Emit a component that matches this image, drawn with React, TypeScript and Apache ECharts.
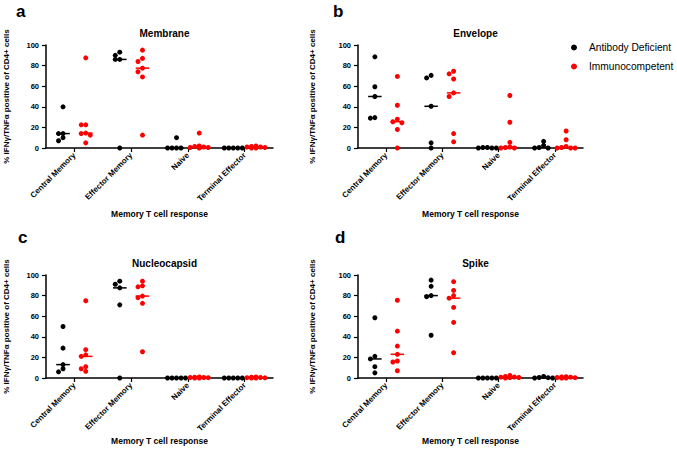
import React, { useEffect, useRef } from "react";
import * as echarts from "echarts";

const categories = ["Central Memory", "Effector Memory", "Naive", "Terminal Effector"];
const groupNames = ["Antibody Deficient", "Immunocompetent"];
const groupColors = ["#000000", "#ff0000"];
const panelTitles = ["Membrane", "Envelope", "Nucleocapsid", "Spike"];
const panelLetters = ["a", "b", "c", "d"];
const yAxisTitle = "% IFNγ/TNFα positive of CD4+ cells";
const xAxisTitle = "Memory T cell response";

// values per category: [Central Memory, Effector Memory, Naive, Terminal Effector]
const membraneDeficient = [
  [40, 14, 14, 10, 7],
  [93, 90, 86, 86, 0],
  [10, 0, 0, 0, 0],
  [0, 0, 0, 0, 0],
];
const membraneCompetent = [
  [87.5, 22.5, 22.5, 14.5, 14, 12.5, 5],
  [95, 87, 84, 77.5, 74, 69, 12.5],
  [14.5, 2, 1.5, 1, 0.5, 0.5, 0],
  [2, 1.5, 1, 1, 0.5, 0, 0],
];
const envelopeDeficient = [
  [88.5, 59.5, 50, 29.5, 29],
  [70.5, 68, 40.5, 5, 0],
  [0.5, 0.5, 0, 0, 0],
  [6.5, 2.5, 0.5, 0, 0],
];
const envelopeCompetent = [
  [69.5, 41.5, 28, 25.5, 24.5, 18, 0],
  [74.5, 72, 67, 53.5, 50, 14, 6],
  [51, 25, 5.5, 1, 0.5, 0, 0],
  [16.5, 8, 1.5, 0.5, 0, 0, 0],
];
const nucleocapsidDeficient = [
  [50, 29, 13, 9, 6],
  [94, 91, 87.5, 71, 0],
  [0, 0, 0, 0, 0],
  [0, 0, 0, 0, 0],
];
const nucleocapsidCompetent = [
  [75, 27.5, 22.5, 21, 11, 9, 6.5],
  [94, 89.5, 88.5, 79.5, 78, 72.5, 25.5],
  [1, 0.8, 0.5, 0.5, 0.3, 0, 0],
  [1, 0.8, 0.5, 0.3, 0.2, 0, 0],
];
const spikeDeficient = [
  [58.5, 21, 18.5, 11, 5],
  [95, 89, 80, 79, 41.5],
  [0, 0, 0, 0, 0],
  [1.5, 0.5, 0.3, 0, 0],
];
const spikeCompetent = [
  [75.5, 45.5, 31, 23, 16.5, 15.5, 7],
  [93.5, 85, 80, 77.5, 68.5, 54, 24.5],
  [2.5, 1.5, 1, 0.8, 0.5, 0.3, 0],
  [1.2, 1, 0.8, 0.5, 0.3, 0, 0],
];

const panelData = [
  [membraneDeficient, membraneCompetent],
  [envelopeDeficient, envelopeCompetent],
  [nucleocapsidDeficient, nucleocapsidCompetent],
  [spikeDeficient, spikeCompetent],
];

// layout
const grids = [
  { left: 46, top: 45, width: 227, height: 103 },
  { left: 358, top: 45, width: 225, height: 103 },
  { left: 46, top: 275, width: 227, height: 103 },
  { left: 358, top: 275, width: 225, height: 103 },
];
const yNameGaps = [36, 42, 36, 42];
const xNameGaps = [61, 61, 58, 58];
const letterPos = [
  { left: 11, top: -2 },
  { left: 328, top: -2 },
  { left: 13, top: 224 },
  { left: 330, top: 224 },
];
const groupOffset = [-0.2, 0.2];
const FONT = "Liberation Sans, Arial, Helvetica, sans-serif";

function median(vals: number[]): number {
  const s = [...vals].sort((a, b) => a - b);
  const n = s.length;
  return n % 2 ? s[(n - 1) / 2] : (s[n / 2 - 1] + s[n / 2]) / 2;
}

// simple beeswarm: returns x offsets (in axis units) for each value
function swarm(vals: number[], pxPerX: number, pxPerY: number): number[] {
  const step = 4.5;
  const minDist = 4;
  const cands = [0, -step, step, -2 * step, 2 * step];
  const order = vals.map((v, i) => i).sort((a, b) => vals[b] - vals[a]);
  const placed: { x: number; y: number }[] = [];
  const out = new Array(vals.length).fill(0);
  for (const i of order) {
    const y = vals[i] * pxPerY;
    let best = 0;
    let bestD = -1;
    for (const c of cands) {
      let d = Infinity;
      for (const p of placed) d = Math.min(d, Math.hypot(p.x - c, p.y - y));
      if (d >= minDist) {
        best = c;
        bestD = Infinity;
        break;
      }
      if (d > bestD) {
        bestD = d;
        best = c;
      }
    }
    placed.push({ x: best, y });
    out[i] = best / pxPerX;
  }
  return out;
}

function buildOption() {
  const xAxis: any[] = [];
  const yAxis: any[] = [];
  const series: any[] = [];
  const title: any[] = [];

  grids.forEach((g, i) => {
    xAxis.push({
      type: "category",
      gridIndex: i,
      position: "bottom",
      data: categories,
      boundaryGap: true,
      axisLine: { show: true, lineStyle: { color: "#000", width: 1.5 } },
      axisTick: { show: true, alignWithLabel: true, length: 4, lineStyle: { color: "#000", width: 1.2 } },
      axisLabel: {
        rotate: 45,
        interval: 0,
        margin: 6,
        fontSize: 8,
        fontWeight: "bold",
        color: "#000",
        fontFamily: FONT,
      },
      name: xAxisTitle,
      nameLocation: "middle",
      nameGap: xNameGaps[i],
      nameTextStyle: { fontSize: 8.5, fontWeight: "bold", color: "#000", fontFamily: FONT },
      splitLine: { show: false },
    });
    xAxis.push({
      type: "value",
      gridIndex: i,
      min: 0,
      max: categories.length,
      show: false,
    });
    yAxis.push({
      type: "value",
      gridIndex: i,
      min: 0,
      max: 100,
      interval: 20,
      name: yAxisTitle,
      nameLocation: "middle",
      nameGap: yNameGaps[i],
      nameTextStyle: { fontSize: 8, fontWeight: "bold", color: "#000", fontFamily: FONT },
      axisLine: { show: true, lineStyle: { color: "#000", width: 1.5 } },
      axisTick: { show: true, length: 4, lineStyle: { color: "#000", width: 1.2 } },
      axisLabel: { fontSize: 7.5, fontWeight: "bold", color: "#000", margin: 7, fontFamily: FONT },
      splitLine: { show: false },
    });
    title.push({
      text: panelTitles[i],
      left: g.left + g.width / 2,
      top: g.top - 22,
      textAlign: "center",
      textStyle: { fontSize: 10, fontWeight: "bold", color: "#000", fontFamily: FONT },
    });
    title.push({
      text: panelLetters[i],
      left: letterPos[i].left,
      top: letterPos[i].top,
      textStyle: { fontSize: 17, fontWeight: "bold", color: "#000", fontFamily: FONT },
    });

    const pxPerX = g.width / categories.length;
    const pxPerY = g.height / 100;

    panelData[i].forEach((groupVals, gi) => {
      const pts: number[][] = [];
      const meds: number[][] = [];
      groupVals.forEach((vals, ci) => {
        const center = ci + 0.5 + groupOffset[gi];
        const offs = swarm(vals, pxPerX, pxPerY);
        vals.forEach((v, k) => pts.push([center + offs[k], v]));
        meds.push([center, median(vals)]);
      });
      const color = groupColors[gi];
      series.push({
        type: "custom",
        xAxisIndex: 2 * i + 1,
        yAxisIndex: i,
        data: meds,
        z: 1,
        silent: true,
        renderItem: (params: any, api: any) => {
          const x = api.value(0);
          const m = api.value(1);
          const p1 = api.coord([x - 0.12, m]);
          const p2 = api.coord([x + 0.12, m]);
          return {
            type: "line",
            shape: { x1: p1[0], y1: p1[1], x2: p2[0], y2: p2[1] },
            style: { stroke: color, lineWidth: 1.5 },
          };
        },
      });
      series.push({
        type: "scatter",
        name: groupNames[gi],
        xAxisIndex: 2 * i + 1,
        yAxisIndex: i,
        data: pts,
        symbol: "circle",
        symbolSize: 5,
        z: 2,
        itemStyle: { color, opacity: 1 },
        emphasis: { disabled: true },
      });
    });
  });

  return {
    animation: false,
    backgroundColor: "#ffffff",
    textStyle: { fontFamily: FONT },
    title,
    legend: {
      data: groupNames,
      orient: "vertical",
      left: 566,
      top: 37,
      icon: "circle",
      itemWidth: 20,
      itemHeight: 6,
      itemGap: 8,
      selectedMode: false,
      textStyle: { fontSize: 10.2, color: "#000", fontFamily: FONT, lineHeight: 11 },
    },
    grid: grids.map((g) => ({ ...g, containLabel: false })),
    xAxis,
    yAxis,
    series,
  };
}

export default function App() {
  const ref = useRef<HTMLDivElement>(null);
  useEffect(() => {
    if (!ref.current) return;
    const chart = echarts.init(ref.current, undefined, { renderer: "svg" });
    chart.setOption(buildOption() as any);
    return () => chart.dispose();
  }, []);
  return (
    <div
      ref={ref}
      style={{ position: "absolute", left: 0, top: 0, width: 677, height: 449, background: "#fff" }}
    />
  );
}
